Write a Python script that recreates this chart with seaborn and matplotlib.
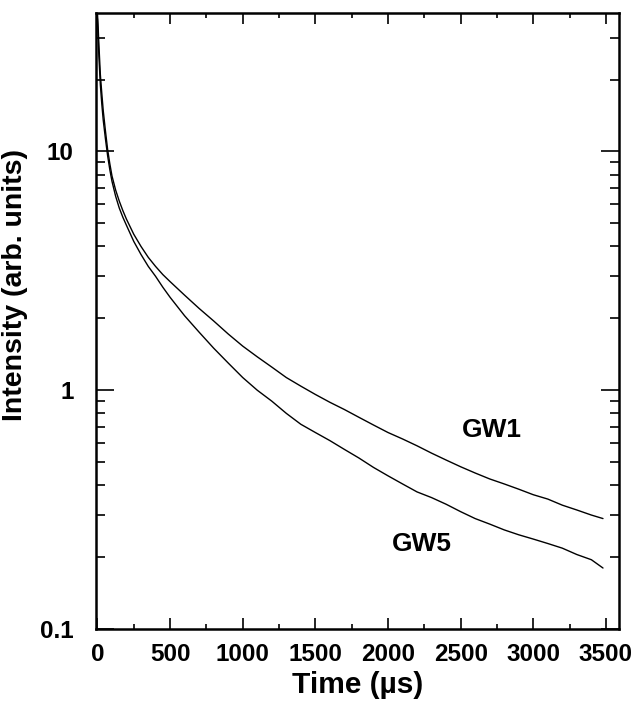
import matplotlib
matplotlib.use("Agg")
import matplotlib.pyplot as plt
import matplotlib.ticker as mticker
import numpy as np
import pandas as pd
import seaborn as sns

# Time axis (µs) and intensities
time_us = [0, 5, 10, 20, 30, 40, 55, 70, 85, 100, 125, 150, 175, 200, 250, 300, 350,
           400, 450, 500, 600, 700, 800, 900,
           1000, 1100, 1200, 1300, 1400, 1500, 1600, 1700, 1800, 1900, 2000,
           2100, 2200, 2300, 2400, 2500, 2600, 2700, 2800, 2900, 3000, 3100,
           3200, 3300, 3400, 3480]
gw1 = [38, 33, 28, 21, 17.5, 14.8, 12.2, 10.2, 8.9, 7.9, 6.9, 6.2, 5.65, 5.2, 4.5, 4.0, 3.6,
       3.3, 3.05, 2.85, 2.5, 2.2, 1.95, 1.72,
       1.53, 1.38, 1.25, 1.13, 1.04, 0.96, 0.89, 0.83, 0.77, 0.715, 0.665,
       0.625, 0.585, 0.545, 0.51, 0.478, 0.45, 0.425, 0.405, 0.385, 0.365, 0.35,
       0.33, 0.315, 0.30, 0.29]
gw5 = [36, 30, 25, 19, 15.8, 13.5, 11.3, 9.6, 8.4, 7.5, 6.5, 5.8, 5.3, 4.9, 4.2, 3.7, 3.3,
       3.0, 2.7, 2.45, 2.05, 1.75, 1.5, 1.3,
       1.13, 1.0, 0.9, 0.8, 0.72, 0.665, 0.615, 0.565, 0.52, 0.475, 0.438,
       0.405, 0.375, 0.355, 0.333, 0.31, 0.29, 0.275, 0.26, 0.248, 0.238, 0.228,
       0.218, 0.205, 0.195, 0.18]
series_names = ["GW1", "GW5"]

x_major = [0, 500, 1000, 1500, 2000, 2500, 3000, 3500]
y_major = [0.1, 1, 10]
y_major_labels = ["0.1", "1", "10"]

df = pd.concat([
    pd.DataFrame({"Time": time_us, "Intensity": gw1, "Sample": series_names[0]}),
    pd.DataFrame({"Time": time_us, "Intensity": gw5, "Sample": series_names[1]}),
], ignore_index=True)

sns.set_style("ticks")
plt.rcParams["font.family"] = ["Liberation Sans", "DejaVu Sans"]
plt.rcParams["font.weight"] = "bold"
plt.rcParams["text.color"] = "black"
plt.rcParams["axes.labelcolor"] = "black"
plt.rcParams["xtick.color"] = "black"
plt.rcParams["ytick.color"] = "black"

fig = plt.figure(figsize=(6.34, 7.03), dpi=100)
ax = fig.add_axes([0.1514, 0.1053, 0.8249, 0.8762])

sns.lineplot(data=df, x="Time", y="Intensity", hue="Sample",
             palette=["black", "black"], linewidth=1.0, legend=False, ax=ax,
             estimator=None, sort=False)

ax.set_yscale("log")
ax.set_xlim(-10, 3590)
ax.set_ylim(0.1, 38)

ax.set_xticks(x_major)
ax.set_xticklabels([str(v) for v in x_major])
ax.xaxis.set_minor_locator(mticker.MultipleLocator(250))
ax.set_yticks(y_major)
ax.set_yticklabels(y_major_labels)
ax.yaxis.set_minor_locator(mticker.LogLocator(base=10, subs=np.arange(2, 10)))
ax.yaxis.set_minor_formatter(mticker.NullFormatter())

ax.tick_params(axis="both", which="both", direction="in", top=True, right=True,
               colors="black", labelcolor="black", width=1.2)
ax.tick_params(axis="x", which="major", length=8, pad=10, labelsize=17.5)
ax.tick_params(axis="x", which="minor", length=3.6)
ax.tick_params(axis="y", which="major", length=13, pad=16, labelsize=17.5)
ax.tick_params(axis="y", which="minor", length=6.5)
for lab in ax.get_xticklabels() + ax.get_yticklabels():
    lab.set_fontweight("bold")

for sp in ax.spines.values():
    sp.set_linewidth(1.8)
    sp.set_color("black")

ax.set_xlabel("Time (µs)", fontsize=21.5, fontweight="bold", labelpad=4)
ax.set_ylabel("Intensity (arb. units)", fontsize=20.5, fontweight="bold")
# ylabel centre at about x=28 px, y=285 px in the figure
ax.yaxis.set_label_coords((28 - 96) / 523, (629 - 285) / 616)

ax.text(2715, 0.68, series_names[0], fontsize=19, fontweight="bold",
        ha="center", va="center")
ax.text(2230, 0.226, series_names[1], fontsize=19, fontweight="bold",
        ha="center", va="center")

fig.savefig("out.png", dpi=100, facecolor="white")
